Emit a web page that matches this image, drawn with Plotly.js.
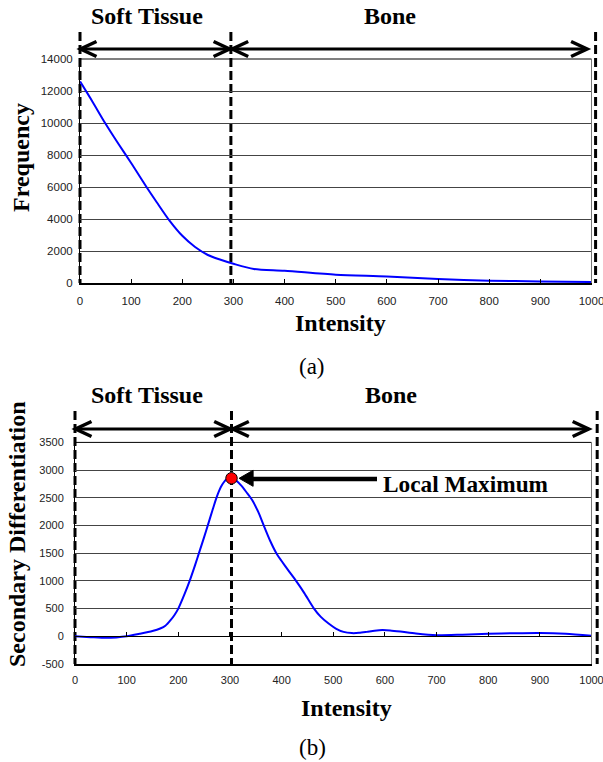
<!DOCTYPE html>
<html>
<head>
<meta charset="utf-8">
<script src="https://cdn.plot.ly/plotly-3.0.1.min.js"></script>
<style>html,body{margin:0;padding:0;background:#fff;}#chart{width:603px;height:762px;}</style>
</head>
<body>
<div id="chart"></div>
<script>
// ---------- data ----------
const xTickVals = [0, 100, 200, 300, 400, 500, 600, 700, 800, 900, 1000];
const xTickText = ['0', '100', '200', '300', '400', '500', '600', '700', '800', '900', '1000'];
const freqTicks = [0, 2000, 4000, 6000, 8000, 10000, 12000, 14000];
const freqTickText = ['0', '2000', '4000', '6000', '8000', '10000', '12000', '14000'];
const diffTicks = [-500, 0, 500, 1000, 1500, 2000, 2500, 3000, 3500];
const diffTickText = ['-500', '0', '500', '1000', '1500', '2000', '2500', '3000', '3500'];

const freqIntensity = [0, 25, 50, 75, 100, 130, 150, 175, 200, 225, 250, 275, 300, 340, 400, 500, 600, 700, 800, 900, 1000];
const frequency     = [12600, 11300, 9950, 8700, 7500, 6000, 5050, 3900, 2950, 2250, 1750, 1450, 1200, 880, 770, 520, 410, 250, 145, 100, 60];

const diffIntensity = [0, 30, 60, 80, 100, 125, 150, 165, 175, 185, 193, 200, 212, 222, 232, 242, 250, 258, 266, 275, 284, 293, 303,
                       312, 322, 332, 343, 355, 365, 378, 391, 400, 413, 428, 444, 462, 476, 491, 505, 520, 536, 550, 565, 580, 595,
                       610, 630, 660, 700, 750, 800, 850, 900, 950, 1000];
const secondaryDiff = [0, -15, -28, -20, 0, 45, 95, 140, 190, 290, 390, 500, 760, 1000, 1270, 1560, 1790, 2030, 2270, 2530, 2720, 2830, 2852,
                       2810, 2720, 2600, 2460, 2240, 2010, 1720, 1480, 1360, 1190, 1000, 780, 510, 350, 230, 140, 80, 58, 62, 80, 100, 112,
                       105, 85, 50, 20, 30, 45, 55, 60, 45, 10];

const peakIntensity = [303];
const peakValue = [2852];
const peakLabel = 'Local Maximum';

const regionLabels = ['Soft Tissue', 'Bone'];
const topBounds = [0, 295, 1008];
const botBounds = [0, 303, 1011];
const panelLabels = ['(a)', '(b)'];
const xTitle = 'Intensity';
const topYTitle = 'Frequency';
const botYTitle = 'Secondary Differentiation';

// ---------- geometry (pixels) ----------
const W = 603, H = 762;
const TOP = {l: 80, r: 591.5, t: 59, b: 283, range: [0, 14000], xr: [0, 1000]};
const BOT = {l: 75, r: 591.5, t: 442.4, b: 664, range: [-500, 3500], xr: [0, 1000]};
const fx = p => p / W;
const fy = p => 1 - p / H;
const dpx = (v, B) => B.l + (v - B.xr[0]) / (B.xr[1] - B.xr[0]) * (B.r - B.l);
const dpy = (v, B) => B.b - (v - B.range[0]) / (B.range[1] - B.range[0]) * (B.b - B.t);

const serif = 'Liberation Serif, Times New Roman, serif';
const sans = 'Liberation Sans, Arial, sans-serif';

const shapes = [];
const annotations = [];

function panel(B, bounds, dashTop, arrowY) {
  bounds.forEach(v => {
    const x = fx(dpx(v, B));
    shapes.push({type: 'line', xref: 'paper', yref: 'paper', x0: x, x1: x, y0: fy(dashTop), y1: fy(B.b),
      line: {color: 'black', width: 3, dash: '9px,4px'}, layer: 'below'});
  });
  for (let i = 0; i < bounds.length - 1; i++) {
    const a = dpx(bounds[i], B) + (i === 0 ? 0.5 : 1.3);
    const b = dpx(bounds[i + 1], B) - (i === bounds.length - 2 ? 8.5 : 1.3);
    shapes.push({type: 'line', xref: 'paper', yref: 'paper', x0: fx(a), x1: fx(b), y0: fy(arrowY), y1: fy(arrowY),
      line: {color: 'black', width: 3}});
    const L = 16, h = 7.5;
    shapes.push({type: 'path', xref: 'paper', yref: 'paper',
      path: `M ${fx(a + L)},${fy(arrowY - h)} L ${fx(a)},${fy(arrowY)} L ${fx(a + L)},${fy(arrowY + h)}`,
      line: {color: 'black', width: 3.5}});
    shapes.push({type: 'path', xref: 'paper', yref: 'paper',
      path: `M ${fx(b - L)},${fy(arrowY - h)} L ${fx(b)},${fy(arrowY)} L ${fx(b - L)},${fy(arrowY + h)}`,
      line: {color: 'black', width: 3.5}});
  }
  shapes.push({type: 'line', xref: 'paper', yref: 'paper', x0: fx(B.l), x1: fx(B.r), y0: fy(B.t), y1: fy(B.t),
    line: {color: 'black', width: 1}});
  shapes.push({type: 'line', xref: 'paper', yref: 'paper', x0: fx(B.r), x1: fx(B.r), y0: fy(B.t), y1: fy(B.b),
    line: {color: '#777', width: 1}});
}

panel(TOP, topBounds, 32, 49);
panel(BOT, botBounds, 411, 429);

function txt(text, xpx, ypx, size, opts) {
  annotations.push(Object.assign({text: text, xref: 'paper', yref: 'paper', x: fx(xpx), y: fy(ypx),
    xanchor: 'center', yanchor: 'middle', showarrow: false,
    font: {family: serif, size: size, color: 'black'}}, opts || {}));
}

txt('<b>' + regionLabels[0] + '</b>', 147, 16, 24);
txt('<b>' + regionLabels[1] + '</b>', 390, 16, 24);
txt('<b>' + regionLabels[0] + '</b>', 147, 395, 24);
txt('<b>' + regionLabels[1] + '</b>', 391, 395, 24);
txt('<b>' + xTitle + '</b>', 340, 323, 24);
txt('<b>' + xTitle + '</b>', 346, 708, 24);
txt('<b>' + topYTitle + '</b>', 21, 158, 24, {textangle: -90});
txt('<b>' + botYTitle + '</b>', 17, 534, 24, {textangle: -90});
txt(panelLabels[0], 312, 366, 23);
txt(panelLabels[1], 312, 747, 23);

const mx = dpx(peakIntensity[0], BOT), my = dpy(peakValue[0], BOT);
const tip = mx + 7.6, base = mx + 21.6;
shapes.push({type: 'path', xref: 'paper', yref: 'paper',
  path: `M ${fx(tip)},${fy(my)} L ${fx(base)},${fy(my - 8)} L ${fx(base)},${fy(my + 8)} Z`,
  fillcolor: 'black', line: {color: 'black', width: 1}});
shapes.push({type: 'line', xref: 'paper', yref: 'paper', x0: fx(base - 1), x1: fx(377), y0: fy(my + 0.8), y1: fy(my + 0.8),
  line: {color: 'black', width: 4.5}});
txt('<b>' + peakLabel + '</b>', 381, 484, 23.3, {xanchor: 'left'});

// ---------- traces ----------
const traces = [
  {x: freqIntensity, y: frequency, xaxis: 'x', yaxis: 'y', mode: 'lines',
   line: {color: '#0000ff', width: 2, shape: 'spline', smoothing: 0.8}, hoverinfo: 'skip'},
  {x: diffIntensity, y: secondaryDiff, xaxis: 'x2', yaxis: 'y2', mode: 'lines',
   line: {color: '#0000ff', width: 2, shape: 'spline', smoothing: 0.7}, hoverinfo: 'skip'},
  {x: peakIntensity, y: peakValue, xaxis: 'x2', yaxis: 'y2', mode: 'markers',
   marker: {size: 11.5, color: '#ff0000', line: {color: 'black', width: 1}}, hoverinfo: 'skip', cliponaxis: false},
  {x: [], y: [], xaxis: 'x3', yaxis: 'y2', mode: 'markers', hoverinfo: 'skip'}
];

const tickFontTop = {family: sans, size: 11.5, color: '#222'};
const tickFontBot = {family: sans, size: 11, color: '#222'};

const layout = {
  width: W, height: H,
  margin: {l: 0, r: 0, t: 0, b: 0, pad: 0},
  paper_bgcolor: '#ffffff',
  plot_bgcolor: 'rgba(0,0,0,0)',
  showlegend: false,
  hovermode: false,
  xaxis: {domain: [fx(TOP.l), fx(TOP.r)], range: TOP.xr, anchor: 'y', tickvals: xTickVals, ticktext: xTickText,
    ticks: 'inside', ticklen: 4, tickcolor: 'black', tickwidth: 1,
    showline: true, linecolor: 'black', linewidth: 2, showgrid: false, zeroline: false,
    tickfont: tickFontTop, ticklabelstandoff: 6, ticklabeloverflow: 'allow'},
  yaxis: {domain: [fy(TOP.b), fy(TOP.t)], range: TOP.range, anchor: 'x', tickvals: freqTicks, ticktext: freqTickText,
    ticks: '', showline: true, linecolor: 'black', linewidth: 1,
    showgrid: true, gridcolor: '#444', gridwidth: 1, zeroline: false,
    tickfont: tickFontTop, ticklabelstandoff: 4, ticklabeloverflow: 'allow'},
  xaxis2: {domain: [fx(BOT.l), fx(BOT.r)], range: BOT.xr, anchor: 'y2', tickvals: xTickVals, ticktext: xTickText,
    ticks: '', showline: true, linecolor: 'black', linewidth: 2, showgrid: false, zeroline: false,
    tickfont: tickFontBot, ticklabelstandoff: 5, ticklabeloverflow: 'allow'},
  yaxis2: {domain: [fy(BOT.b), fy(BOT.t)], range: BOT.range, anchor: 'x2', tickvals: diffTicks, ticktext: diffTickText,
    ticks: '', showline: true, linecolor: 'black', linewidth: 1,
    showgrid: true, gridcolor: '#444', gridwidth: 1,
    zeroline: true, zerolinecolor: 'black', zerolinewidth: 1,
    tickfont: tickFontBot, ticklabelstandoff: 8, ticklabeloverflow: 'allow'},
  xaxis3: {overlaying: 'x2', anchor: 'free', position: fy(dpy(0, BOT)), range: BOT.xr, tickvals: xTickVals,
    ticks: 'inside', ticklen: 4, tickcolor: 'black', tickwidth: 1, showticklabels: false,
    showline: true, linecolor: 'black', linewidth: 1, showgrid: false, zeroline: false},
  shapes: shapes,
  annotations: annotations
};

Plotly.newPlot('chart', traces, layout, {staticPlot: true, displayModeBar: false});
</script>
</body>
</html>
